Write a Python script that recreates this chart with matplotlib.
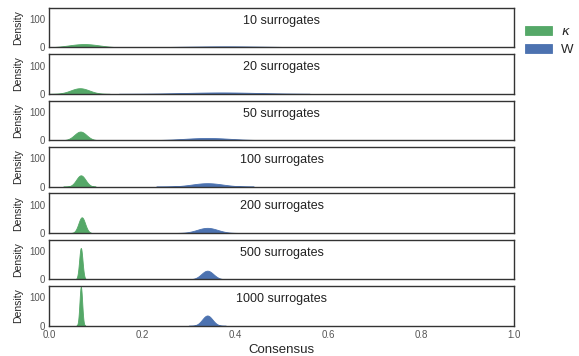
import numpy as np
import matplotlib
matplotlib.use("Agg")
import matplotlib.pyplot as plt
import seaborn as sns

sns.set_style("white")
plt.rcParams['font.family'] = ['Liberation Sans', 'DejaVu Sans']

# number of surrogates per row
n_surrogates = [10, 20, 50, 100, 200, 500, 1000]

# kappa consensus distribution: mean, spread, support
kappa_mean = [0.075, 0.066, 0.067, 0.068, 0.070, 0.068, 0.068]
kappa_sd = [0.033, 0.020, 0.013, 0.010, 0.0072, 0.0036, 0.0029]
kappa_lo = [0.00, 0.00, 0.02, 0.03, 0.045, 0.055, 0.058]
kappa_hi = [0.18, 0.13, 0.12, 0.10, 0.09, 0.082, 0.078]

# W consensus distribution: mean, spread, support
w_mean = [0.38, 0.37, 0.34, 0.34, 0.34, 0.34, 0.34]
w_sd = [0.10, 0.08, 0.05, 0.033, 0.022, 0.013, 0.0110]
w_lo = [0.14, 0.15, 0.19, 0.23, 0.26, 0.29, 0.30]
w_hi = [0.68, 0.56, 0.49, 0.44, 0.42, 0.39, 0.38]

green = "#55A868"
blue = "#4C72B0"


def density(x, mu, sd):
    return np.exp(-0.5 * ((x - mu) / sd) ** 2) / (sd * np.sqrt(2 * np.pi))


def main():
    fig, axes = plt.subplots(len(n_surrogates), 1, figsize=(5.79, 3.56), dpi=100, sharex=True)
    fig.subplots_adjust(left=0.085, right=0.888, top=0.978, bottom=0.085, hspace=0.17)

    for i, ax in enumerate(axes):
        xk = np.linspace(kappa_lo[i], kappa_hi[i], 300)
        xw = np.linspace(w_lo[i], w_hi[i], 300)
        ax.fill_between(xk, density(xk, kappa_mean[i], kappa_sd[i]), color=green, lw=0.6,
                        edgecolor=green, label=r'$\kappa$')
        ax.fill_between(xw, density(xw, w_mean[i], w_sd[i]), color=blue, lw=0.6,
                        edgecolor=blue, label='W')
        ax.set_xlim(0, 1)
        ax.set_ylim(0, 140)
        ax.set_yticks([0, 100])
        ax.tick_params(labelsize=7, labelcolor='#555555', length=0, pad=3)
        ax.set_ylabel('Density', fontsize=7.5, labelpad=4)
        for s in ax.spines.values():
            s.set_color('#333333')
            s.set_linewidth(1.0)
        ax.text(0.5, 0.67, '%d surrogates' % n_surrogates[i], transform=ax.transAxes,
                ha='center', va='center', fontsize=9, color='#222222')
        if i == 0:
            ax.legend(loc='center left', bbox_to_anchor=(1.024, 0.16), frameon=False,
                      fontsize=9.5, handlelength=2.05, handleheight=0.7, handletextpad=0.68,
                      borderaxespad=0, borderpad=0, labelspacing=0.45)

    axes[-1].set_xticks([0, 0.2, 0.4, 0.6, 0.8, 1.0])
    axes[-1].set_xticklabels(['0.0', '0.2', '0.4', '0.6', '0.8', '1.0'])
    axes[-1].set_xlabel('Consensus', fontsize=9.5, labelpad=3)

    plt.savefig('out.png', dpi=100)


if __name__ == '__main__':
    main()
